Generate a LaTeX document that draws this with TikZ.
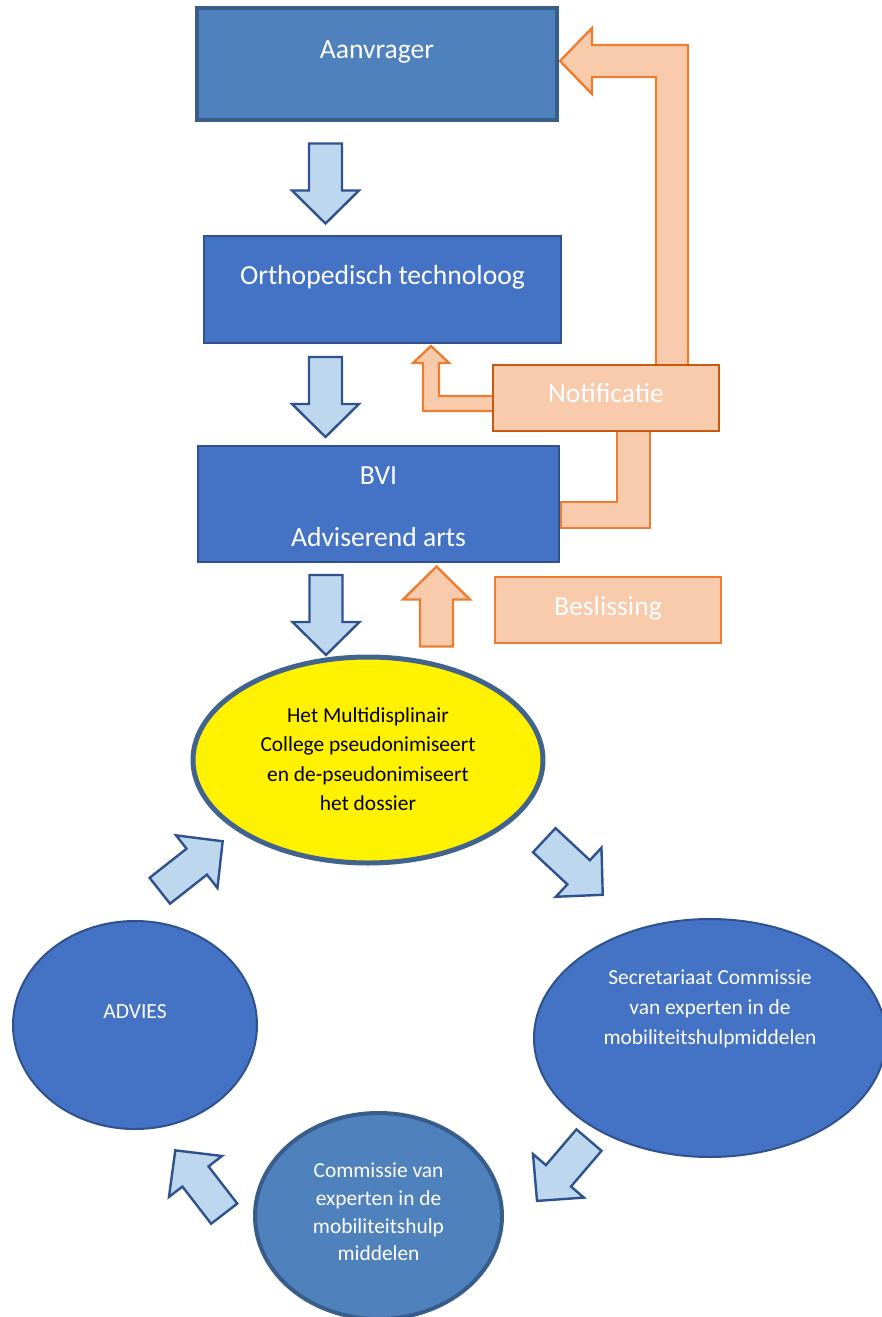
\documentclass[tikz,border=0pt]{standalone}
\usepackage{fontspec}
\setmainfont{Carlito}
\usetikzlibrary{shapes.geometric}

\definecolor{darkfill}{HTML}{4F81BD}
\definecolor{darkedge}{HTML}{385D8A}
\definecolor{boxfill}{HTML}{4472C4}
\definecolor{boxedge}{HTML}{2F528F}
\definecolor{arrowfill}{HTML}{BDD7EE}
\definecolor{orangefill}{HTML}{F8CBAD}
\definecolor{orangeedge}{HTML}{ED7D31}
\definecolor{orangedark}{HTML}{C55A11}
\definecolor{collegeedge}{HTML}{41648F}

\begin{document}
\begin{tikzpicture}[x=0.5pt, y=-0.5pt,
  every node/.style={outer sep=0pt, inner sep=0pt, align=center},
  bluebox/.style={draw=boxedge, fill=boxfill, line width=1pt},
  darkbox/.style={draw=darkedge, fill=darkfill, line width=2pt},
  orangebox/.style={draw=orangeedge, fill=orangefill, line width=1.2pt},
  boxtext/.style={text=white, font=\fontsize{13.8}{16}\selectfont},
  smalltext/.style={font=\fontsize{10.7}{15}\selectfont},
  lightarrow/.style={draw=boxedge, fill=arrowfill, line width=1.2pt},
  orangearrow/.style={draw=orangeedge, fill=orangefill, line width=1.2pt},
  pics/blockarrow/.style={code={
    \draw[#1] (-40,-16.5) -- (7,-16.5) -- (7,-33.5) -- (40,0) -- (7,33.5) -- (7,16.5) -- (-40,16.5) -- cycle;
  }}
]
\useasboundingbox (0,0) rectangle (882,1317);

% Orange bent arrows (drawn first, the boxes lie over their ends)
\draw[orangearrow] (656,366) -- (656,77) -- (592,77) -- (592,94) -- (560,61) -- (592,28) -- (592,45) -- (688,45) -- (688,366) -- cycle;
\draw[orangearrow] (494,396) -- (439,396) -- (439,363) -- (449,363) -- (431,346) -- (413,363) -- (423,363) -- (423,411) -- (494,411) -- cycle;
\draw[orangearrow] (617,430) -- (617,502) -- (561,502) -- (561,528) -- (650,528) -- (650,430) -- cycle;

% Boxes top to bottom
\node[darkbox, minimum width=180pt, minimum height=56pt, label={[boxtext, yshift=6pt]center:Aanvrager}] (aanvrager) at (377,64) {};
\node[bluebox, minimum width=178.5pt, minimum height=53.5pt, label={[boxtext, yshift=6pt]center:Orthopedisch technoloog}] (ortho) at (382.5,289.5) {};
\node[bluebox, minimum width=180.5pt, minimum height=58pt, label={[boxtext, yshift=-1.5pt, font=\fontsize{13.8}{15.5}\selectfont]center:BVI\\[15.5pt]Adviserend arts}] (bvi) at (378.5,504) {};
\node[orangebox, draw=orangedark, minimum width=113pt, minimum height=33pt, label={[boxtext, yshift=2.5pt]center:Notificatie}] (notif) at (606,398) {};
\node[orangebox, minimum width=113pt, minimum height=33pt, label={[boxtext, yshift=1pt]center:Beslissing}] (besl) at (608,610) {};

% Straight block arrows
\pic[rotate=-90] at (325.5,183.5) {blockarrow=lightarrow};
\pic[rotate=-90] at (325.5,397) {blockarrow=lightarrow};
\pic[rotate=-90] at (326,615) {blockarrow=lightarrow};
\pic[rotate=90] at (436.5,606.5) {blockarrow=orangearrow};

% Cycle of ellipses
\node[ellipse, draw=collegeedge, fill=yellow, line width=2.5pt, minimum width=175pt, minimum height=103pt] (college) at (368,760) {};
\node[smalltext, font=\fontsize{10.7}{14.7}\selectfont] at ([yshift=0.5pt]college.center) {Het Multidisplinair\\College pseudonimiseert\\en de-pseudonimiseert\\het dossier};
\node[ellipse, bluebox, minimum width=176pt, minimum height=119pt] (secr) at (710,1038) {};
\node[smalltext, text=white] at ([yshift=14.5pt]secr.center) {Secretariaat Commissie\\van experten in de\\mobiliteitshulpmiddelen};
\node[ellipse, darkbox, minimum width=123.5pt, minimum height=103pt] (comm) at (378.5,1216) {};
\node[smalltext, text=white, font=\fontsize{10.7}{13.8}\selectfont] at ([yshift=2pt]comm.center) {Commissie van\\experten in de\\mobiliteitshulp\\middelen};
\node[ellipse, bluebox, minimum width=122pt, minimum height=104pt] (advies) at (135,1025) {};
\node[smalltext, text=white, font=\fontsize{10.8}{14}\selectfont] at ([yshift=6.5pt]advies.center) {ADVIES};

% Diagonal block arrows
\pic[rotate=-43] at (573.5,867.5) {blockarrow=lightarrow};
\pic[rotate=229.5] at (563,1170.5) {blockarrow=lightarrow};
\pic[rotate=127.7] at (199.75,1182) {blockarrow=lightarrow};
\pic[rotate=38.2] at (191.25,866) {blockarrow=lightarrow};
\end{tikzpicture}
\end{document}
